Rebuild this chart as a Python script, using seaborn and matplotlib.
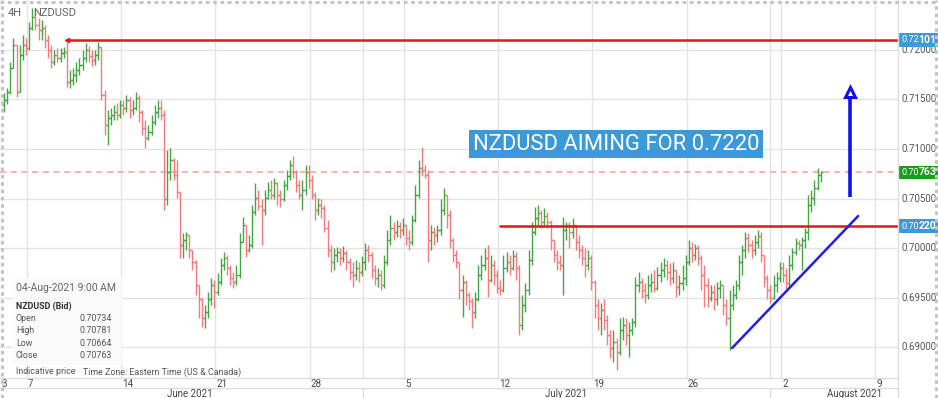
import numpy as np
import pandas as pd
import matplotlib
matplotlib.use("Agg")
import matplotlib.pyplot as plt
import matplotlib.transforms as mtransforms
from matplotlib.lines import Line2D
from matplotlib.patches import Rectangle
import seaborn as sns

# ---------------- data (NZDUSD 4H bars) ----------------
first_open = 0.7144
closes = [
    0.7149, 0.7158, 0.7182, 0.7205, 0.7158, 0.7195, 0.7205, 0.7202, 0.7222, 0.7233,
    0.7225, 0.7220, 0.7222, 0.7210, 0.7200, 0.7188, 0.7195, 0.7192, 0.7197, 0.7198,
    0.7168, 0.7170, 0.7175, 0.7180, 0.7185, 0.7192, 0.7200, 0.7194, 0.7190, 0.7195,
    0.7203, 0.7155, 0.7124, 0.7131, 0.7134, 0.7137, 0.7134, 0.7144, 0.7141, 0.7149,
    0.7139, 0.7141, 0.7152, 0.7137, 0.7121, 0.7111, 0.7117, 0.7127, 0.7137, 0.7141,
    0.7134, 0.7049, 0.7077, 0.7089, 0.7074, 0.7057, 0.7003, 0.7008, 0.7013, 0.6998,
    0.6986, 0.6963, 0.6948, 0.6929, 0.6935, 0.6948, 0.6963, 0.6956, 0.6966, 0.6983,
    0.6990, 0.6980, 0.6970, 0.6966, 0.6973, 0.7006, 0.7023, 0.6998, 0.7003, 0.7036,
    0.7051, 0.7042, 0.7038, 0.7051, 0.7059, 0.7054, 0.7066, 0.7054, 0.7049, 0.7064,
    0.7073, 0.7084, 0.7077, 0.7064, 0.7054, 0.7059, 0.7077, 0.7069, 0.7054, 0.7038,
    0.7043, 0.7040, 0.7020, 0.6998, 0.6986, 0.6993, 0.6996, 0.6990, 0.6995, 0.6986,
    0.6976, 0.6973, 0.6980, 0.6976, 0.6986, 0.6998, 0.6993, 0.6978, 0.6970, 0.6973,
    0.6963, 0.6986, 0.7008, 0.7020, 0.7016, 0.7022, 0.7018, 0.7023, 0.7010, 0.7006,
    0.7028, 0.7054, 0.7081, 0.7079, 0.7074, 0.7008, 0.7016, 0.7013, 0.7018, 0.7038,
    0.7054, 0.7033, 0.7008, 0.6993, 0.6986, 0.6958, 0.6966, 0.6953, 0.6946, 0.6935,
    0.6948, 0.6973, 0.6983, 0.6990, 0.6968, 0.6983, 0.6973, 0.6960, 0.6958, 0.6980,
    0.6986, 0.6980, 0.6992, 0.6980, 0.6922, 0.6942, 0.6958, 0.6988, 0.7016, 0.7030,
    0.7035, 0.7026, 0.7032, 0.7026, 0.7008, 0.6993, 0.6986, 0.6983, 0.7018, 0.7023,
    0.7016, 0.7023, 0.7006, 0.6998, 0.6990, 0.6983, 0.6990, 0.6966, 0.6942, 0.6929,
    0.6937, 0.6927, 0.6912, 0.6899, 0.6905, 0.6895, 0.6917, 0.6922, 0.6912, 0.6917,
    0.6925, 0.6963, 0.6966, 0.6958, 0.6953, 0.6963, 0.6966, 0.6960, 0.6973, 0.6978,
    0.6983, 0.6976, 0.6970, 0.6978, 0.6961, 0.6965, 0.6970, 0.6986, 0.7000, 0.6993,
    0.7000, 0.6990, 0.6973, 0.6963, 0.6950, 0.6956, 0.6948, 0.6960, 0.6963, 0.6942,
    0.6929, 0.6942, 0.6953, 0.6963, 0.6986, 0.6998, 0.7010, 0.7003, 0.6998, 0.7006,
    0.7012, 0.6993, 0.6970, 0.6958, 0.6950, 0.6963, 0.6970, 0.6980, 0.6973, 0.6965,
    0.6983, 0.6996, 0.7005, 0.7003, 0.7008, 0.7016, 0.7043, 0.7051, 0.7061, 0.70734,
    0.70763]
highs = [
    0.7157, 0.7162, 0.7188, 0.7212, 0.7195, 0.7205, 0.7215, 0.7212, 0.7228, 0.7242,
    0.7240, 0.7232, 0.7230, 0.7225, 0.7215, 0.7205, 0.7200, 0.7202, 0.7202, 0.7203,
    0.7208, 0.7180, 0.7182, 0.7188, 0.7192, 0.7200, 0.7207, 0.7204, 0.7200, 0.7200,
    0.7208, 0.7198, 0.7160, 0.7139, 0.7141, 0.7144, 0.7146, 0.7149, 0.7149, 0.7155,
    0.7153, 0.7149, 0.7158, 0.7155, 0.7139, 0.7129, 0.7124, 0.7134, 0.7144, 0.7149,
    0.7149, 0.7139, 0.7099, 0.7101, 0.7091, 0.7089, 0.7054, 0.7015, 0.7016, 0.7008,
    0.6998, 0.6988, 0.6963, 0.6950, 0.6942, 0.6956, 0.6970, 0.6968, 0.6975, 0.6990,
    0.6996, 0.6993, 0.6983, 0.6976, 0.6983, 0.7015, 0.7031, 0.7023, 0.7013, 0.7043,
    0.7066, 0.7059, 0.7049, 0.7059, 0.7067, 0.7069, 0.7071, 0.7067, 0.7059, 0.7069,
    0.7079, 0.7089, 0.7093, 0.7079, 0.7069, 0.7069, 0.7084, 0.7084, 0.7074, 0.7057,
    0.7051, 0.7049, 0.7043, 0.7028, 0.7003, 0.7000, 0.7001, 0.7000, 0.7002, 0.6998,
    0.6990, 0.6986, 0.6988, 0.6986, 0.6992, 0.7005, 0.7003, 0.6996, 0.6983, 0.6980,
    0.6978, 0.6993, 0.7018, 0.7033, 0.7026, 0.7028, 0.7026, 0.7030, 0.7023, 0.7018,
    0.7033, 0.7064, 0.7089, 0.7102, 0.7084, 0.7079, 0.7023, 0.7021, 0.7023, 0.7049,
    0.7061, 0.7054, 0.7038, 0.7010, 0.6998, 0.6986, 0.6973, 0.6968, 0.6956, 0.6950,
    0.6956, 0.6983, 0.6993, 0.7000, 0.7003, 0.6993, 0.6988, 0.6978, 0.6968, 0.6993,
    0.6996, 0.6993, 0.6998, 0.6996, 0.6983, 0.6953, 0.6965, 0.6998, 0.7026, 0.7041,
    0.7043, 0.7038, 0.7040, 0.7036, 0.7028, 0.7008, 0.6998, 0.6993, 0.7031, 0.7026,
    0.7026, 0.7030, 0.7023, 0.7013, 0.7003, 0.7000, 0.6998, 0.6993, 0.6968, 0.6948,
    0.6944, 0.6948, 0.6932, 0.6917, 0.6917, 0.6909, 0.6929, 0.6930, 0.6929, 0.6925,
    0.6929, 0.6971, 0.6976, 0.6970, 0.6965, 0.6973, 0.6975, 0.6978, 0.6981, 0.6986,
    0.6990, 0.6988, 0.6985, 0.6986, 0.6978, 0.6973, 0.6983, 0.6993, 0.7008, 0.7006,
    0.7004, 0.7003, 0.6993, 0.6983, 0.6970, 0.6963, 0.6963, 0.6966, 0.6968, 0.6963,
    0.6948, 0.6958, 0.6963, 0.6968, 0.6993, 0.7003, 0.7016, 0.7015, 0.7008, 0.7013,
    0.7018, 0.7016, 0.6993, 0.6973, 0.6963, 0.6973, 0.6976, 0.6986, 0.6986, 0.6980,
    0.6993, 0.7000, 0.7010, 0.7008, 0.7011, 0.7020, 0.7054, 0.7059, 0.7069, 0.7081,
    0.70781]
lows = [
    0.7137, 0.7145, 0.7156, 0.7190, 0.7153, 0.7160, 0.7190, 0.7195, 0.7200, 0.7220,
    0.7220, 0.7210, 0.7210, 0.7202, 0.7192, 0.7182, 0.7185, 0.7188, 0.7188, 0.7192,
    0.7163, 0.7162, 0.7165, 0.7168, 0.7175, 0.7180, 0.7188, 0.7188, 0.7184, 0.7185,
    0.7190, 0.7149, 0.7114, 0.7104, 0.7124, 0.7129, 0.7129, 0.7131, 0.7134, 0.7137,
    0.7131, 0.7134, 0.7139, 0.7127, 0.7114, 0.7101, 0.7109, 0.7114, 0.7124, 0.7131,
    0.7129, 0.7038, 0.7043, 0.7069, 0.7069, 0.7051, 0.6990, 0.6990, 0.6998, 0.6990,
    0.6978, 0.6953, 0.6929, 0.6920, 0.6919, 0.6929, 0.6942, 0.6939, 0.6953, 0.6963,
    0.6978, 0.6973, 0.6963, 0.6960, 0.6963, 0.6970, 0.7008, 0.6991, 0.6996, 0.7000,
    0.7033, 0.7038, 0.7003, 0.7033, 0.7049, 0.7049, 0.7049, 0.7043, 0.7041, 0.7047,
    0.7059, 0.7069, 0.7071, 0.7057, 0.7049, 0.7038, 0.7054, 0.7061, 0.7049, 0.7028,
    0.7033, 0.7030, 0.7016, 0.6991, 0.6976, 0.6978, 0.6986, 0.6983, 0.6986, 0.6978,
    0.6968, 0.6961, 0.6968, 0.6966, 0.6972, 0.6978, 0.6986, 0.6970, 0.6963, 0.6961,
    0.6958, 0.6960, 0.6983, 0.7003, 0.7008, 0.7011, 0.7010, 0.7013, 0.7003, 0.6998,
    0.7003, 0.7026, 0.7051, 0.7073, 0.7071, 0.6986, 0.6998, 0.7003, 0.7006, 0.7013,
    0.7033, 0.7020, 0.7000, 0.6986, 0.6980, 0.6948, 0.6930, 0.6942, 0.6937, 0.6919,
    0.6929, 0.6946, 0.6968, 0.6978, 0.6951, 0.6966, 0.6963, 0.6955, 0.6953, 0.6956,
    0.6976, 0.6973, 0.6978, 0.6968, 0.6912, 0.6917, 0.6935, 0.6953, 0.6983, 0.7013,
    0.7023, 0.7020, 0.7023, 0.7020, 0.6998, 0.6986, 0.6978, 0.6978, 0.6953, 0.7008,
    0.7000, 0.7010, 0.6998, 0.6990, 0.6983, 0.6971, 0.6978, 0.6958, 0.6929, 0.6917,
    0.6912, 0.6917, 0.6902, 0.6889, 0.6885, 0.6877, 0.6892, 0.6907, 0.6902, 0.6890,
    0.6912, 0.6920, 0.6956, 0.6950, 0.6944, 0.6948, 0.6956, 0.6956, 0.6958, 0.6966,
    0.6971, 0.6968, 0.6963, 0.6965, 0.6951, 0.6953, 0.6958, 0.6963, 0.6983, 0.6986,
    0.6988, 0.6983, 0.6958, 0.6940, 0.6940, 0.6946, 0.6937, 0.6942, 0.6950, 0.6932,
    0.6922, 0.6897, 0.6937, 0.6948, 0.6958, 0.6973, 0.6990, 0.6996, 0.6990, 0.6993,
    0.7000, 0.6986, 0.6961, 0.6948, 0.6944, 0.6948, 0.6956, 0.6966, 0.6966, 0.6956,
    0.6960, 0.6978, 0.6993, 0.6998, 0.6978, 0.7000, 0.7008, 0.7036, 0.7043, 0.7059,
    0.70664]

price_ticks = [0.690, 0.695, 0.700, 0.705, 0.710, 0.715, 0.720]
week_ticks = [7.3, 37.3, 67.3, 97.3, 127.3, 157.3, 187.3, 217.3, 247.3, 277.3]
week_labels = ["7", "14", "21", "28", "5", "12", "19", "26", "2", "9"]
month_bounds = [114.3, 243.9]
months = ["June 2021", "July 2021", "August 2021"]

resist_high = 0.72101
resist_low = 0.70220
last_price = 0.70763
trend_x = [231.8, 271.9]
trend_y = [0.6899, 0.70323]
target_arrow = (269.3, 0.70515, 0.71596)
info_rows = [("Open", "0.70734"), ("High", "0.70781"), ("Low", "0.70664"), ("Close", "0.70763")]

# ---------------- style ----------------
sns.set_theme(style="white")
plt.rcParams['font.family'] = ['Roboto', 'DejaVu Sans']

W, H = 938, 398
fig = plt.figure(figsize=(W / 100, H / 100), dpi=100)
fig.patch.set_facecolor("white")
ax = fig.add_axes([0, 20 / H, 898 / W, 378 / H])
ax.set_facecolor("white")

GREEN = "#46a346"
RED = "#f27b7b"
GRID = "#e4e4e4"

df = pd.DataFrame({"close": closes, "high": highs, "low": lows})
df["open"] = [first_open] + closes[:-1]
df["high"] = df[["high", "open", "close"]].max(axis=1)
df["low"] = df[["low", "open", "close"]].min(axis=1)
df["i"] = np.arange(len(df))
up = df["close"] >= df["open"]

ax.set_xlim(-1.27, 284.6)
ax.set_ylim(0.68687, 0.72505)

# grid
for p in price_ticks:
    ax.axhline(p, color=GRID, lw=1.0, zorder=0)
for x in week_ticks + month_bounds:
    ax.axvline(x, color=GRID, lw=1.0, zorder=0)

# OHLC bars
tick = 0.65
for mask, col in ((up, GREEN), (~up, RED)):
    d = df[mask]
    ax.vlines(d["i"], d["low"], d["high"], color=col, lw=1.0, zorder=3)
    ax.hlines(d["open"], d["i"] - tick, d["i"], color=col, lw=1.0, zorder=3)
    ax.hlines(d["close"], d["i"], d["i"] + tick, color=col, lw=1.0, zorder=3)

# last price dashed
ax.axhline(last_price, color="#f4a09c", lw=1.1, ls=(0, (4, 3)), zorder=2)

# resistance lines
sns.lineplot(x=[20.0, 284.6], y=[resist_high, resist_high], color="#e8141a", lw=1.8, ax=ax, zorder=5)
ax.plot([20.0], [resist_high], marker="<", ms=3, color="#e8141a", zorder=5)
sns.lineplot(x=[157.9, 284.6], y=[resist_low, resist_low], color="#e8141a", lw=1.8, ax=ax, zorder=5)

# trend line
sns.lineplot(x=trend_x, y=trend_y, color="#1f1ff0", lw=1.8, ax=ax, zorder=5)

# target arrow
ax.plot([target_arrow[0]] * 2, [target_arrow[1], target_arrow[2] - 0.0004], color="#1010f0",
        lw=2.6, solid_capstyle="butt", zorder=6)
ax.plot([target_arrow[0]], [target_arrow[2] - 0.0002], marker="^", ms=7, mfc="white", mec="#1010f0",
        mew=2.2, zorder=7)

for s in ax.spines.values():
    s.set_visible(False)
ax.set_xticks([])
ax.set_yticks([])

# right price labels
trans_r = mtransforms.blended_transform_factory(ax.transAxes, ax.transData)
for p in price_ticks:
    ax.text(1.0 + 4 / 898, p, f"{p:.5f}", transform=trans_r, ha="left", va="center",
            fontsize=7, color="#555555", clip_on=False)

for val, fc in ((resist_high, "#3c9ad8"), (last_price, "#1c9a1c"), (resist_low, "#3c9ad8")):
    s = f"{val:.5f}"
    ax.add_patch(Rectangle((1.0 + 1 / 898, val - 0.00070), 40 / 898, 0.00140, transform=trans_r,
                           fc=fc, ec="none", clip_on=False, zorder=10))
    ax.text(1.0 + 3 / 898, val, s[:4], transform=trans_r, ha="left", va="center",
            fontsize=6.5, color="white", clip_on=False, zorder=11)
    ax.text(1.0 + 20.5 / 898, val, s[4:], transform=trans_r, ha="left", va="center",
            fontsize=7.5, fontweight="bold", color="white", clip_on=False, zorder=11)

# right axis border
fig.add_artist(Line2D([898 / W, 898 / W], [0, 1], color="#dddddd", lw=1))
# bottom axis borders
fig.add_artist(Line2D([0, 898 / W], [20 / H, 20 / H], color="#dddddd", lw=1))
fig.add_artist(Line2D([0, 898 / W], [10 / H, 10 / H], color="#dddddd", lw=1))
for xb in month_bounds:
    xp = (4 + 3.141 * xb) / W
    fig.add_artist(Line2D([xp, xp], [0, 10 / H], color="#dddddd", lw=1))

# date labels
trans_b = mtransforms.blended_transform_factory(ax.transData, ax.transAxes)
ax.text(-0.9, -6 / 378, "3", transform=trans_b, ha="left", va="center", fontsize=7, color="#444444")
for x, lab in zip(week_ticks, week_labels):
    ax.text(x + 0.4, -6 / 378, lab, transform=trans_b, ha="left", va="center", fontsize=7,
            color="#444444")
for xpx, m in zip([190, 566, 855], months):
    fig.text(xpx / W, 1 - 394 / H, m, ha="center", va="center", fontsize=7, color="#444444")

# top-left labels
fig.text(8 / W, 1 - 13 / H, "4H", fontsize=8, color="#666666", va="center")
fig.text(33 / W, 1 - 13 / H, "NZDUSD", fontsize=8, color="#666666", va="center")

# headline box
fig.text(616 / W, 1 - 144 / H, "NZDUSD AIMING FOR 0.7220", ha="center", va="center",
         fontsize=15.8, color="white",
         bbox=dict(boxstyle="square,pad=0.16", fc="#3a9ad9", ec="none"))

# info box
fig.patches.append(Rectangle((12 / W, 1 - 365 / H), 110 / W, 88 / H, transform=fig.transFigure,
                             fc="#fafafa", ec="none", alpha=0.9, zorder=8))
fig.text(16 / W, 1 - 288 / H, "04-Aug-2021 9:00 AM", fontsize=7.5, color="#666666", va="center",
         zorder=9)
fig.text(16 / W, 1 - 306 / H, "NZDUSD (Bid)", fontsize=6.4, fontweight="bold", color="#333333",
         va="center", zorder=9)
for k, (name, val) in enumerate(info_rows):
    yy = 1 - (318.5 + 12.3 * k) / H
    fig.text(16 / W, yy, name, fontsize=6.4, color="#555555", va="center", zorder=9)
    fig.text(112 / W, yy, val, fontsize=6.4, color="#555555", va="center", ha="right", zorder=9)
fig.text(16 / W, 1 - 372 / H, "Indicative price", fontsize=6.4, color="#555555", va="center", zorder=9)
fig.text(83 / W, 1 - 372 / H, "Time Zone: Eastern Time (US & Canada)", fontsize=6.4,
         color="#555555", va="center", zorder=9)

# screenshot dotted border
for seg in (([1.5 / W, 1.5 / W], [0, 1]), ([0, 1], [1 - 1.5 / H, 1 - 1.5 / H]),
            ([936 / W, 936 / W], [0, 1])):
    fig.add_artist(Line2D(seg[0], seg[1], color="#c4c4c4", lw=2.2, ls=(0, (1.2, 1.2))))

fig.savefig("out.png", dpi=100)
